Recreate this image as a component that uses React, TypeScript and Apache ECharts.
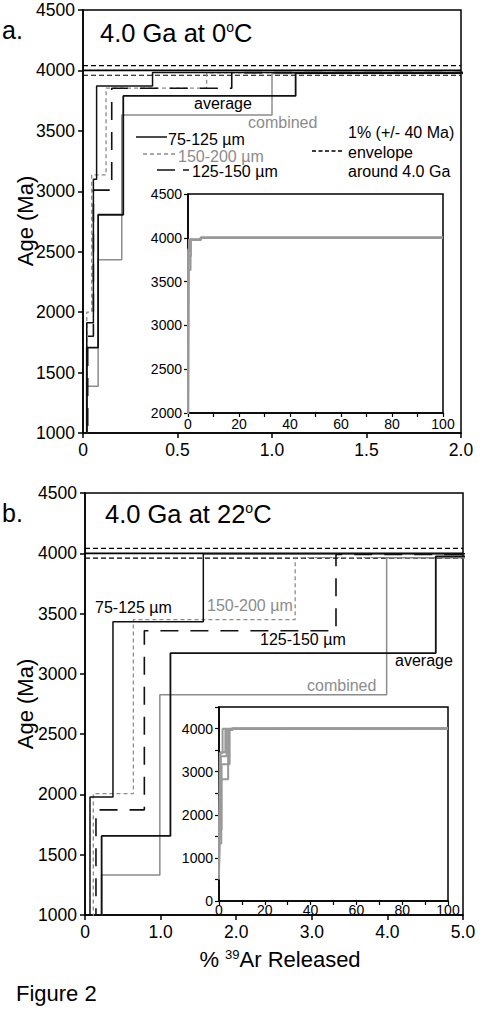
import React, { useEffect, useRef } from 'react';
import * as echarts from 'echarts';

const FONT = '"Liberation Sans", Arial, Helvetica, sans-serif';
const BLACK = '#111111';
const GRAY = '#8c8c8c';

// Step spectra: [cumulative % 39Ar released at step start, apparent age (Ma)]
// Panel a: 4.0 Ga at 0 oC
const a75_125 = [[0, 700], [0.02, 1913], [0.055, 3100], [0.072, 3872], [0.368, 3982], [5, 4000], [100, 4000]];
const a150_200 = [[0, 800], [0.02, 2000], [0.046, 3136], [0.122, 3853], [0.654, 3979], [5, 4000], [100, 4000]];
const a125_150 = [[0, 600], [0.025, 1800], [0.055, 3010], [0.152, 3853], [0.787, 3982], [5, 4000], [100, 4000]];
const aAverage = [[0, 900], [0.02, 1707], [0.08, 2806], [0.213, 3789], [1.125, 3978], [5, 4000], [100, 4000]];
const aCombined = [[0, 800], [0.02, 1387], [0.08, 2434], [0.205, 3632], [1.0, 3975], [5, 4000], [100, 4000]];

// Panel b: 4.0 Ga at 22 oC
const b75_125 = [[0, 600], [0.066, 1978], [0.37, 3433], [1.565, 3997], [6, 4000], [100, 4000]];
const b150_200 = [[0, 700], [0.11, 2006], [0.64, 3450], [2.78, 3964], [5.5, 4000], [100, 4000]];
const b125_150 = [[0, 500], [0.145, 1872], [0.785, 3358], [3.32, 3990], [6, 4000], [100, 4000]];
const bAverage = [[0, 800], [0.22, 1656], [1.13, 3172], [4.64, 3975], [6, 4000], [100, 4000]];
const bCombined = [[0, 700], [0.22, 1331], [0.99, 2826], [3.99, 3964], [6, 4000], [100, 4000]];

// 1% (+/- 40 Ma) envelope around 4.0 Ga
const envelopeLow = 3960;
const targetAge = 4000;
const envelopeHigh = 4040;

// axis ranges
const aX = { min: 0, max: 2, interval: 0.5 };
const bX = { min: 0, max: 5, interval: 1 };
const mainY = { min: 1000, max: 4500, interval: 500 };
const insetX = { min: 0, max: 100, interval: 20 };
const insetAY = { min: 2000, max: 4500, interval: 500 };
const insetBY = { min: 0, max: 4500, interval: 500 };

const axisLine = { show: true, onZero: false, lineStyle: { color: '#000', width: 1.5 } };
const plain = (v: number) => String(v);

function mainXAxis(gridIndex: number, r: any) {
  return {
    type: 'value', gridIndex, min: r.min, max: r.max, interval: r.interval,
    axisLine, splitLine: { show: false },
    axisTick: { show: true, inside: false, length: 5, lineStyle: { color: '#000', width: 1.5 } },
    axisLabel: {
      color: '#000', fontSize: 17.5, fontFamily: FONT, margin: 8,
      formatter: (v: number) => (v === 0 ? '0' : v.toFixed(1)),
    },
  };
}
function mainYAxis(gridIndex: number, r: any) {
  return {
    type: 'value', gridIndex, min: r.min, max: r.max, interval: r.interval,
    axisLine, splitLine: { show: false },
    axisTick: { show: true, inside: false, length: 5, lineStyle: { color: '#000', width: 1.5 } },
    axisLabel: { color: '#000', fontSize: 17.5, fontFamily: FONT, margin: 8, formatter: plain },
  };
}
function insetXAxis(gridIndex: number, margin: number) {
  return {
    type: 'value', gridIndex, min: insetX.min, max: insetX.max, interval: insetX.interval,
    axisLine, splitLine: { show: false },
    axisTick: { show: true, inside: false, length: 4, lineStyle: { color: '#000', width: 1.2 } },
    minorTick: { show: true, splitNumber: 2, length: 4, lineStyle: { color: '#000', width: 1.2 } },
    minorSplitLine: { show: false },
    axisLabel: { color: '#000', fontSize: 14, fontFamily: FONT, margin, formatter: plain },
  };
}
function insetYAxis(gridIndex: number, r: any, fmt: (v: number) => string) {
  return {
    type: 'value', gridIndex, min: r.min, max: r.max, interval: r.interval,
    axisLine, splitLine: { show: false },
    axisTick: { show: true, inside: false, length: 4, lineStyle: { color: '#000', width: 1.2 } },
    axisLabel: { color: '#000', fontSize: 14, fontFamily: FONT, margin: 6, formatter: fmt },
  };
}

function stepSeries(data: number[][], idx: number, lineStyle: any, z = 3) {
  return {
    type: 'line', xAxisIndex: idx, yAxisIndex: idx, data, step: 'end',
    showSymbol: false, symbol: 'none', clip: true, silent: true, z, lineStyle,
  };
}
function hLine(age: number, idx: number, xmax: number, lineStyle: any) {
  return {
    type: 'line', xAxisIndex: idx, yAxisIndex: idx, data: [[0, age], [xmax, age]],
    showSymbol: false, symbol: 'none', clip: true, silent: true, z: 2, lineStyle,
  };
}

const sSolid = { color: BLACK, width: 1.5 };
const sGrayDash = { color: GRAY, width: 1.3, type: [4, 3] };
const sLongDash = { color: BLACK, width: 1.6, type: [18, 12] };
const sAverage = { color: BLACK, width: 1.8 };
const sCombined = { color: GRAY, width: 1.5 };
const sInset = { color: '#999999', width: 2 };
const sEnv = { color: '#000', width: 1.2, type: [5, 3] };
const sTarget = { color: '#000', width: 1.8 };

function txt(x: number, y: number, text: string, size = 16, fill = '#000', extra: any = {}, rotation = 0) {
  return {
    type: 'text', x, y, rotation, silent: true, z: 10,
    style: { text, fill, fontSize: size, fontFamily: FONT, align: 'left', verticalAlign: 'middle', ...extra },
  };
}
function seg(x1: number, y1: number, x2: number, y2: number, stroke: string, lineDash?: number[], lineWidth = 1.5) {
  return {
    type: 'line', silent: true, z: 10,
    shape: { x1, y1, x2, y2 },
    style: { stroke, lineWidth, lineDash },
  };
}

function buildOption() {
  const supRich = (big: number, small: number) => ({
    t: { fontSize: big, fontFamily: FONT, fill: '#000' },
    s: { fontSize: small, fontFamily: FONT, fill: '#000', verticalAlign: 'top' },
  });
  return {
    animation: false,
    backgroundColor: '#ffffff',
    grid: [
      { left: 83, top: 10, width: 378, height: 423, show: true, borderColor: '#000', borderWidth: 1.5, backgroundColor: 'transparent' },
      { left: 188, top: 194, width: 255, height: 219, show: true, borderColor: '#000', borderWidth: 1.5, backgroundColor: 'transparent' },
      { left: 85, top: 493, width: 378, height: 422, show: true, borderColor: '#000', borderWidth: 1.5, backgroundColor: 'transparent' },
      { left: 219, top: 707, width: 229, height: 194, show: true, borderColor: '#000', borderWidth: 1.5, backgroundColor: 'transparent' },
    ],
    xAxis: [mainXAxis(0, aX), insetXAxis(1, 4), mainXAxis(2, bX), insetXAxis(3, 2)],
    yAxis: [
      mainYAxis(0, mainY),
      insetYAxis(1, insetAY, plain),
      mainYAxis(2, mainY),
      insetYAxis(3, insetBY, (v: number) => (v % 1000 === 0 && v <= 4000 ? String(v) : '')),
    ],
    series: [
      // panel a
      hLine(envelopeHigh, 0, aX.max, sEnv),
      hLine(envelopeLow, 0, aX.max, sEnv),
      hLine(targetAge, 0, aX.max, sTarget),
      stepSeries(aCombined, 0, sCombined),
      stepSeries(a150_200, 0, sGrayDash),
      stepSeries(a125_150, 0, sLongDash),
      stepSeries(a75_125, 0, sSolid),
      stepSeries(aAverage, 0, sAverage),
      // inset a
      stepSeries(a75_125, 1, sInset),
      stepSeries(a150_200, 1, sInset),
      stepSeries(a125_150, 1, sInset),
      stepSeries(aAverage, 1, sInset),
      stepSeries(aCombined, 1, sInset),
      // panel b
      hLine(envelopeHigh, 2, bX.max, sEnv),
      hLine(envelopeLow, 2, bX.max, sEnv),
      hLine(targetAge, 2, bX.max, sTarget),
      stepSeries(bCombined, 2, sCombined),
      stepSeries(b150_200, 2, sGrayDash),
      stepSeries(b125_150, 2, sLongDash),
      stepSeries(b75_125, 2, sSolid),
      stepSeries(bAverage, 2, sAverage),
      // inset b
      stepSeries(b75_125, 3, sInset),
      stepSeries(b150_200, 3, sInset),
      stepSeries(b125_150, 3, sInset),
      stepSeries(bAverage, 3, sInset),
      stepSeries(bCombined, 3, sInset),
    ],
    graphic: {
      elements: [
        // panel a annotations
        txt(2, 30, 'a.', 25),
        {
          type: 'text', x: 100, y: 33, silent: true, z: 10,
          style: { text: '{t|4.0 Ga at 0}{s|o}{t|C}', rich: supRich(25.5, 14), align: 'left', verticalAlign: 'middle' },
        },
        txt(194, 103, 'average', 16),
        txt(248, 122, 'combined', 16, GRAY),
        seg(136, 137, 167, 137, BLACK),
        txt(168, 139, '75-125 µm', 16),
        seg(143, 154, 175, 154, GRAY, [4, 3], 1.3),
        txt(178, 156, '150-200 µm', 16, GRAY),
        seg(157, 170, 189, 170, BLACK, [18, 8]),
        txt(192, 171, '125-150 µm', 16),
        txt(348, 132, '1% (+/- 40 Ma)', 16),
        seg(312, 151, 342, 151, '#000', [4, 2.5], 1.3),
        txt(348, 152, 'envelope', 16),
        txt(348, 171, 'around 4.0 Ga', 16),
        txt(25, 221, 'Age (Ma)', 22, '#000', { align: 'center' }, Math.PI / 2),
        // panel b annotations
        txt(2, 513, 'b.', 25),
        {
          type: 'text', x: 105, y: 514, silent: true, z: 10,
          style: { text: '{t|4.0 Ga at 22}{s|o}{t|C}', rich: supRich(25.5, 14), align: 'left', verticalAlign: 'middle' },
        },
        txt(95, 607, '75-125 µm', 16),
        txt(207, 605, '150-200 µm', 16, GRAY),
        txt(260, 639, '125-150 µm', 16),
        txt(395, 660, 'average', 16),
        txt(307, 685, 'combined', 16, GRAY),
        txt(25, 704, 'Age (Ma)', 22, '#000', { align: 'center' }, Math.PI / 2),
        {
          type: 'text', x: 280, y: 959, silent: true, z: 10,
          style: { text: '{t|% }{s|39}{t|Ar Released}', rich: supRich(22, 13), align: 'center', verticalAlign: 'middle' },
        },
        txt(16, 993, 'Figure 2', 22),
      ],
    },
  };
}

export default function App() {
  const ref = useRef<HTMLDivElement>(null);
  useEffect(() => {
    if (!ref.current) return;
    const chart = echarts.init(ref.current, null, { renderer: 'svg' });
    chart.setOption(buildOption() as any);
    return () => chart.dispose();
  }, []);
  return (
    <div
      ref={ref}
      style={{ position: 'absolute', left: 0, top: 0, width: 484, height: 1010, background: '#fff' }}
    />
  );
}
